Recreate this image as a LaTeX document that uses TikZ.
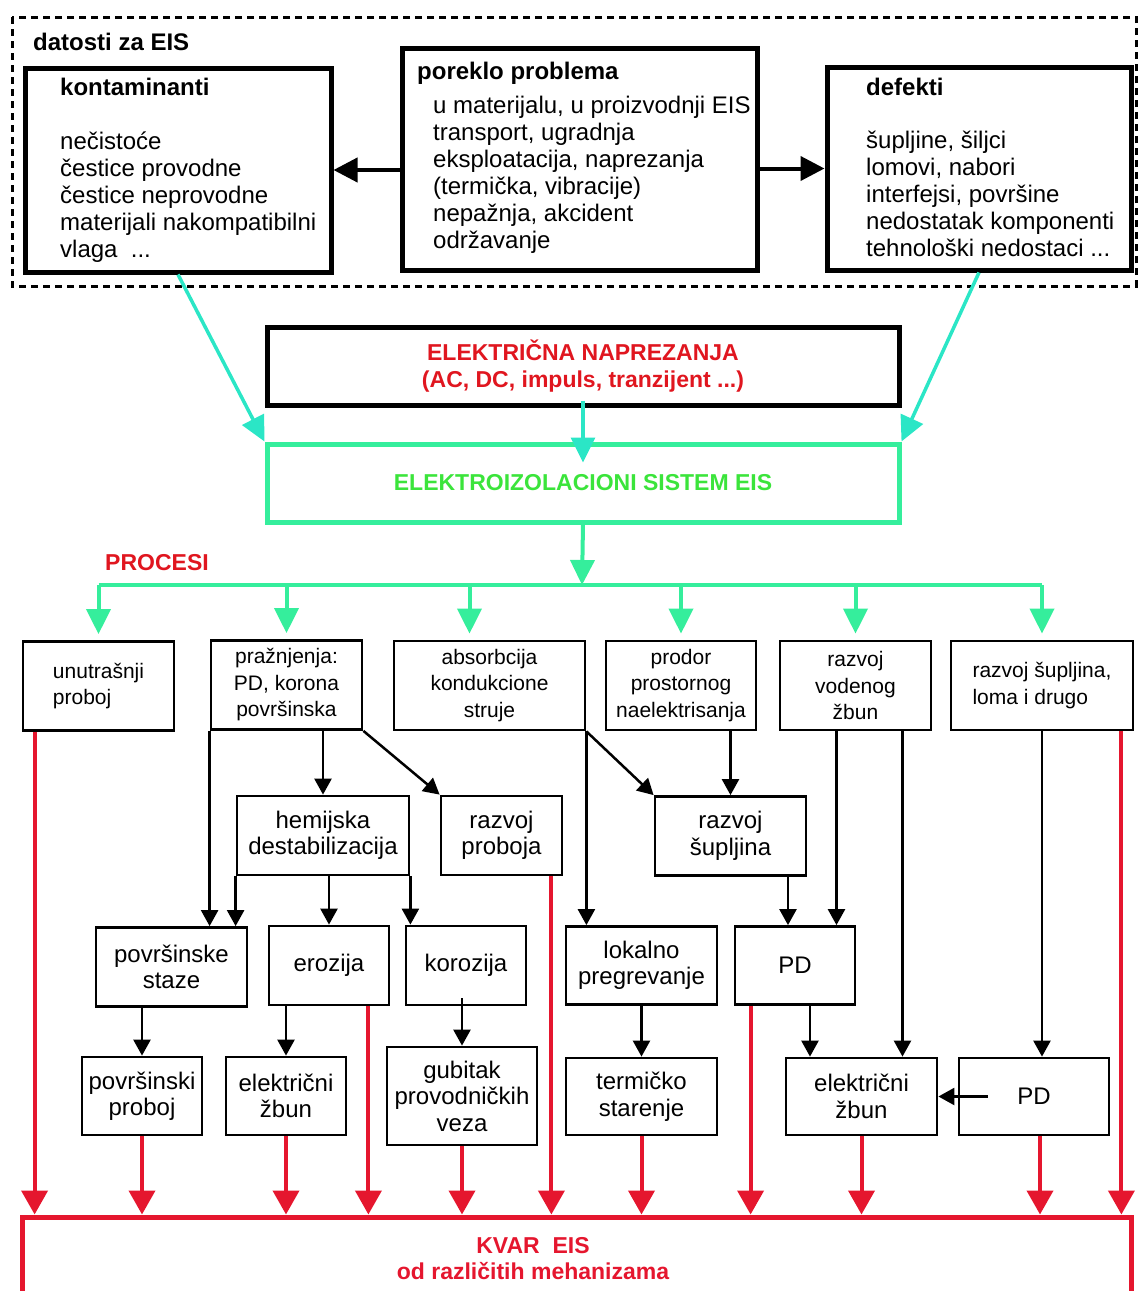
\documentclass[tikz,border=0pt]{standalone}
\usepackage{fontspec}
\setmainfont{Liberation Sans}
\usetikzlibrary{arrows.meta}

\definecolor{eismint}{HTML}{35EE9C}
\definecolor{eistext}{HTML}{3BE43B}
\definecolor{turq}{HTML}{2BE6C6}
\definecolor{kvarred}{HTML}{E5162E}
\definecolor{titlered}{HTML}{E0161F}

\tikzset{
  datframe/.style={draw, line width=3pt, dash pattern=on 7pt off 5pt},
  frame/.style={draw, line width=5pt, inner sep=0pt},
  box/.style={draw, line width=2.8pt, inner sep=0pt, align=center, font=\fontsize{24}{26.5}\selectfont},
  boxa/.style={box, font=\fontsize{21}{26.5}\selectfont},
  txt/.style={inner sep=0pt, align=left, font=\fontsize{24}{27}\selectfont},
  head/.style={inner sep=0pt, font=\fontsize{24}{27}\selectfont\bfseries},
  redhead/.style={inner sep=0pt, align=center, text=titlered, font=\fontsize{23}{27.5}\selectfont\bfseries},
  blk/.style={-{Triangle[length=16pt,width=17pt]}, line width=2.5pt},
  blkbig/.style={-{Triangle[length=24pt,width=24pt]}, line width=4pt},
  cyarr/.style={-{Triangle[length=25pt,width=24pt]}, line width=3.5pt, turq},
  eisarr/.style={-{Triangle[length=25pt,width=24pt]}, line width=4pt, eismint},
  redarr/.style={-{Triangle[length=24pt,width=26pt]}, line width=4pt, kvarred}
}

\begin{document}
\begin{tikzpicture}[x=1pt, y=-1pt]
    \clip (0,0) rectangle (1140,1291);

    % Input data frame
    \draw[datframe] (12,17) rectangle (1136,286);
    \node[head, anchor=west] (dat) at (33,42) {datosti za EIS};

    % Define nodes: input boxes
    \node[frame, minimum width=306, minimum height=204] (kont) at (178,170) {};
    \node[head, anchor=west] (konthd) at (60,87) {kontaminanti};
    \node[txt, anchor=north west] (kontlst) at (60,132) {nečistoće\\čestice provodne\\čestice neprovodne\\materijali nakompatibilni\\vlaga\ \ ...};

    \node[frame, minimum width=355, minimum height=222] (por) at (579.5,159) {};
    \node[head, anchor=west] (porhd) at (417,73) {poreklo problema};
    \node[txt, anchor=north west] (porlst) at (433,96) {u materijalu, u proizvodnji EIS\\transport, ugradnja\\eksploatacija, naprezanja\\(termička, vibracije)\\nepažnja, akcident\\održavanje};

    \node[frame, minimum width=304, minimum height=203] (def) at (979,168.5) {};
    \node[head, anchor=west] (defhd) at (866,87) {defekti};
    \node[txt, anchor=north west] (deflst) at (866,131) {šupljine, šiljci\\lomovi, nabori\\interfejsi, površine\\nedostatak komponenti\\tehnološki nedostaci ...};

    % Define nodes: stress and insulation system
    \node[frame, minimum width=632, minimum height=78, redhead] (nap) at (583,366) {ELEKTRIČNA NAPREZANJA\\(AC, DC, impuls, tranzijent ...)};
    \node[frame, draw=eismint, minimum width=632, minimum height=78, font=\fontsize{23}{27}\selectfont\bfseries, text=eistext] (eis) at (583,483) {ELEKTROIZOLACIONI SISTEM EIS};
    \node[redhead] (proc) at (157,563) {PROCESI};
    \coordinate (bus) at (582,585);

    % Define nodes: processes
    \node[boxa, align=left, minimum width=151, minimum height=89] (unut) at (98.5,686) {unutrašnji\\proboj};
    \node[boxa, minimum width=151, minimum height=89] (praz) at (286.5,685) {pražnjenja:\\PD, korona\\površinska};
    \node[boxa, minimum width=191, minimum height=89] (absorb) at (489.5,685.5) {absorbcija\\kondukcione\\struje};
    \node[boxa, minimum width=150, minimum height=89] (prodor) at (681,685.5) {prodor\\prostornog\\naelektrisanja};
    \node[boxa, minimum width=151, minimum height=89] (vod) at (855.5,685.5) {razvoj\\vodenog\\žbun};
    \node[boxa, align=left, minimum width=182, minimum height=89] (sl) at (1042,685.5) {razvoj šupljina,\\loma i drugo};

    \node[box, minimum width=172, minimum height=79] (hemij) at (323,835.5) {hemijska\\destabilizacija};
    \node[box, minimum width=121, minimum height=79] (rproboja) at (501.5,835.5) {razvoj\\proboja};
    \node[box, minimum width=151, minimum height=79] (rsupl) at (730.5,836) {razvoj\\šupljina};

    \node[box, minimum width=151, minimum height=79] (pstaze) at (171.5,967) {površinske\\staze};
    \node[box, minimum width=120, minimum height=79] (eroz) at (329,965.5) {erozija};
    \node[box, minimum width=120, minimum height=79] (koroz) at (466,965.5) {korozija};
    \node[box, minimum width=151, minimum height=78] (lokalno) at (641.5,965.5) {lokalno\\pregrevanje};
    \node[box, minimum width=120, minimum height=78] (pdone) at (795,965.5) {PD};

    \node[box, minimum width=120, minimum height=78] (pproboj) at (142,1096) {površinski\\proboj};
    \node[box, minimum width=120, minimum height=78] (zbunone) at (286,1096) {električni\\žbun};
    \node[box, minimum width=150, minimum height=98] (gub) at (462,1096) {gubitak\\provodničkih\\veza};
    \node[box, minimum width=151, minimum height=77] (term) at (641.5,1096.5) {termičko\\starenje};
    \node[box, minimum width=151, minimum height=77] (zbuntwo) at (861.5,1096.5) {električni\\žbun};
    \node[box, minimum width=150, minimum height=77] (pdtwo) at (1034,1096.5) {PD};

    % Failure box
    \node[frame, draw=kvarred, minimum width=1109, minimum height=123] (kvar) at (576.5,1278.5) {};
    \node[redhead, text=kvarred, font=\fontsize{23}{26}\selectfont\bfseries] (kvartxt) at (533,1259) {KVAR\ \ EIS\\od različitih mehanizama};

    % Helper points
    \coordinate (absin) at ([xshift=-20]absorb.north);
    \coordinate (vodl) at ([xshift=-19]vod.south);
    \coordinate (vodr) at ([xshift=47]vod.south);
    \coordinate (pdl) at ([xshift=-7]pdone.north);
    \coordinate (pdr) at ([xshift=15]pdone.south);
    \coordinate (pdin) at ([xshift=30]pdtwo.west);
    \coordinate (korin) at ([yshift=8]koroz.south -| gub.north);

    % Draw arrows: input data
    \draw[blkbig] (por.west |- kont.east) -- (kont.east);
    \draw[blkbig] (por.east |- def.west) -- (def.west);
    \draw[cyarr] (kont.south) -- (eis.north west);
    \draw[cyarr] (def.south) -- (eis.north east);
    \draw[cyarr] ([yshift=7]nap.south) -- ([yshift=-21]eis.north);

    % Draw arrows: process bus
    \draw[eisarr] (eis.south) -- (bus);
    \draw[eismint, line width=4pt] (unut.north |- bus) -- (sl.north |- bus);
    \draw[eisarr] (unut.north |- bus) -- ([yshift=6]unut.north);
    \draw[eisarr] (praz.north |- bus) -- ([yshift=6]praz.north);
    \draw[eisarr] (absin |- bus) -- ([yshift=6]absin);
    \draw[eisarr] (prodor.north |- bus) -- ([yshift=6]prodor.north);
    \draw[eisarr] (vod.north |- bus) -- ([yshift=6]vod.north);
    \draw[eisarr] (sl.north |- bus) -- ([yshift=6]sl.north);

    % Draw arrows: between processes
    \draw[blk] (praz.south west) -- (praz.south west |- pstaze.north);
    \draw[blk] (praz.south -| hemij.north) -- (hemij.north);
    \draw[blk] (praz.south east) -- (rproboja.north west);
    \draw[blk] (hemij.south west) -- (hemij.south west |- pstaze.north);
    \draw[blk] (hemij.south -| eroz.north) -- (eroz.north);
    \draw[blk] (hemij.south east) -- (hemij.south east |- koroz.north);
    \draw[blk] (absorb.south east) -- (absorb.south east |- lokalno.north);
    \draw[blk] (absorb.south east) -- (rsupl.north west);
    \draw[blk] (prodor.south -| rsupl.north) -- (rsupl.north);
    \draw[blk] (vodl) -- (vodl |- pdone.north);
    \draw[blk] (vodr) -- (vodr |- zbuntwo.north);
    \draw[blk] (pdl |- rsupl.south) -- (pdl);
    \draw[blk] (sl.south) -- (sl.south |- pdtwo.north);
    \draw[blk] (pstaze.south -| pproboj.north) -- (pproboj.north);
    \draw[blk] (eroz.south -| zbunone.north) -- (zbunone.north);
    \draw[blk] (korin) -- (gub.north);
    \draw[blk] (lokalno.south) -- (term.north);
    \draw[blk] (pdr) -- (pdr |- zbuntwo.north);
    \draw[blk] (pdin) -- (zbuntwo.east);

    % Draw arrows: into failure
    \draw[redarr] ([xshift=13]unut.south west) -- ([xshift=13]unut.south west |- kvar.north);
    \draw[redarr] (pproboj.south) -- (pproboj.south |- kvar.north);
    \draw[redarr] (zbunone.south) -- (zbunone.south |- kvar.north);
    \draw[redarr] ([xshift=-22]eroz.south east) -- ([xshift=-22]eroz.south east |- kvar.north);
    \draw[redarr] (gub.south) -- (gub.south |- kvar.north);
    \draw[redarr] ([xshift=-12]rproboja.south east) -- ([xshift=-12]rproboja.south east |- kvar.north);
    \draw[redarr] (term.south) -- (term.south |- kvar.north);
    \draw[redarr] ([xshift=17]pdone.south west) -- ([xshift=17]pdone.south west |- kvar.north);
    \draw[redarr] (zbuntwo.south) -- (zbuntwo.south |- kvar.north);
    \draw[redarr] ([xshift=6]pdtwo.south) -- ([xshift=6]pdtwo.south |- kvar.north);
    \draw[redarr] ([xshift=-13]sl.south east) -- ([xshift=-13]sl.south east |- kvar.north);
\end{tikzpicture}
\end{document}
